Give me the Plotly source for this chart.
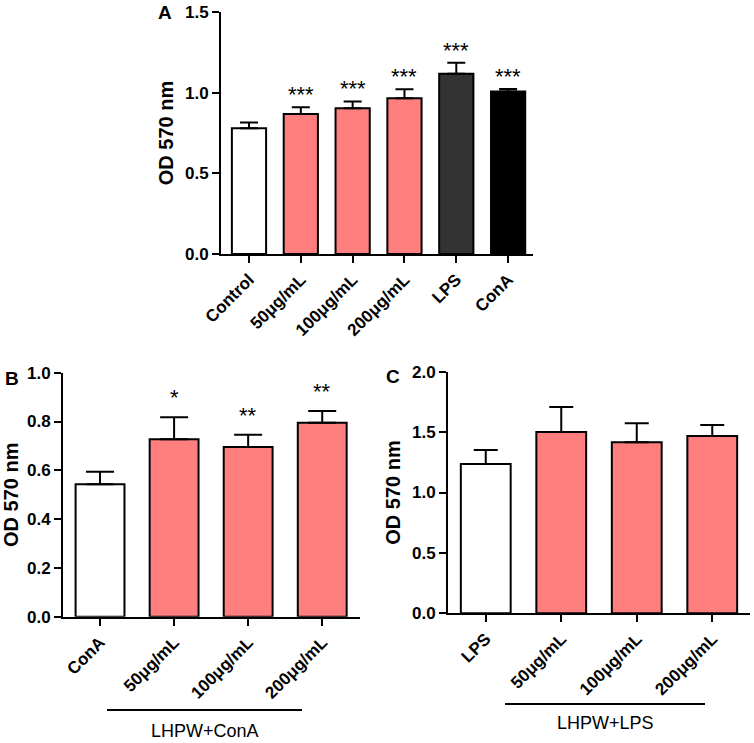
import plotly.graph_objects as go
from plotly.subplots import make_subplots

# Panel A
cats_a = ["Control", "50μg/mL", "100μg/mL", "200μg/mL", "LPS", "ConA"]
vals_a = [0.78, 0.868, 0.903, 0.965, 1.118, 1.008]
err_a = [0.035, 0.041, 0.043, 0.056, 0.068, 0.014]
stars_a = ["", "***", "***", "***", "***", "***"]
colors_a = ["#ffffff", "#ff7f7f", "#ff7f7f", "#ff7f7f", "#333333", "#000000"]

# Panel B
cats_b = ["ConA", "50μg/mL", "100μg/mL", "200μg/mL"]
vals_b = [0.543, 0.727, 0.695, 0.795]
err_b = [0.051, 0.09, 0.051, 0.048]
stars_b = ["", "*", "**", "**"]

# Panel C
cats_c = ["LPS", "50μg/mL", "100μg/mL", "200μg/mL"]
vals_c = [1.236, 1.501, 1.415, 1.468]
err_c = [0.116, 0.207, 0.158, 0.091]

colors_bc = ["#ffffff", "#ff7f7f", "#ff7f7f", "#ff7f7f"]

W, H = 754, 743
font = "Liberation Sans, Arial, sans-serif"

fig = make_subplots(rows=2, cols=2)


def add_panel(cats, vals, errs, colors, cap, row, col):
    fig.add_trace(
        go.Bar(
            x=cats, y=vals, width=0.66,
            marker=dict(color=colors, line=dict(color="black", width=2)),
            error_y=dict(type="data", array=errs, arrayminus=[0] * len(errs),
                         symmetric=False, color="black", thickness=2, width=cap),
            showlegend=False,
        ), row=row, col=col
    )


add_panel(cats_a, vals_a, err_a, colors_a, 9, 1, 1)
add_panel(cats_b, vals_b, err_b, colors_bc, 14, 2, 1)
add_panel(cats_c, vals_c, err_c, colors_bc, 12, 2, 2)

# Significance stars
for c, v, e, s in zip(cats_a, vals_a, err_a, stars_a):
    if s:
        fig.add_annotation(x=c, y=v + e, text=s, showarrow=False, yanchor="bottom",
                           yshift=-2, font=dict(size=22, family=font, color="black"),
                           xref="x", yref="y")
for c, v, e, s in zip(cats_b, vals_b, err_b, stars_b):
    if s:
        fig.add_annotation(x=c, y=v + e, text=s, showarrow=False, yanchor="bottom",
                           yshift=5, font=dict(size=22, family=font, color="black"),
                           xref="x3", yref="y3")

tfont = dict(family=font, size=17, color="black", weight="bold")
ax_style = dict(showline=True, linecolor="black", linewidth=2, ticks="outside",
                ticklen=7, tickwidth=2, tickcolor="black", showgrid=False,
                zeroline=False, automargin=False, tickfont=tfont)
ytitle = dict(text="<b>OD 570 nm</b>", standoff=6,
              font=dict(size=20, family=font, color="black"))

dom = lambda a, b: [a / W, b / W]
vdom = lambda top, bot: [1 - bot / H, 1 - top / H]

fig.update_layout(
    width=W, height=H, margin=dict(l=0, r=0, t=0, b=0, autoexpand=False),
    plot_bgcolor="white", paper_bgcolor="white",
    font=dict(family=font, color="black"),
    xaxis=dict(ax_style, domain=dom(221, 533), range=[-0.54, 5.48], tickangle=-45),
    yaxis=dict(ax_style, domain=vdom(12, 254), range=[0, 1.5], dtick=0.5, tickformat=".1f",
               title=ytitle),
    xaxis2=dict(visible=False, domain=[0.99, 1.0]),
    yaxis2=dict(visible=False, domain=[0.99, 1.0]),
    xaxis3=dict(ax_style, domain=dom(63, 360), range=[-0.5, 3.51], tickangle=-45),
    yaxis3=dict(ax_style, domain=vdom(372.7, 616.7), range=[0, 1.0], dtick=0.2, tickformat=".1f",
                title=ytitle),
    xaxis4=dict(ax_style, domain=dom(448, 750), range=[-0.5, 3.5], tickangle=-45),
    yaxis4=dict(ax_style, domain=vdom(371.7, 613.3), range=[0, 2.0], dtick=0.5, tickformat=".1f",
                title=ytitle),
)

# Panel letters
for letter, px, py in [("A", 165, 13), ("B", 12, 378), ("C", 393, 377)]:
    fig.add_annotation(x=px / W, y=1 - py / H, xref="paper", yref="paper", text="<b>%s</b>" % letter,
                       xanchor="center", yanchor="middle", showarrow=False,
                       font=dict(size=19, family=font, color="black"))

# Group brackets
for label, x0, x1, ly, ty in [("LHPW+ConA", 107, 302, 710, 731), ("LHPW+LPS", 505, 705, 704, 723)]:
    fig.add_shape(type="line", xref="paper", yref="paper", x0=x0 / W, x1=x1 / W,
                  y0=1 - ly / H, y1=1 - ly / H, line=dict(color="black", width=2))
    fig.add_annotation(x=(x0 + x1) / 2 / W, y=1 - ty / H, xref="paper", yref="paper", text=label,
                       xanchor="center", yanchor="middle", showarrow=False,
                       font=dict(size=18, family=font, color="black"))

# page body has a default 8px margin; drop it so the figure sits at the window corner
fig.write_html("out.html", config={"displayModeBar": False},
               post_script="document.body.style.margin='0';")
